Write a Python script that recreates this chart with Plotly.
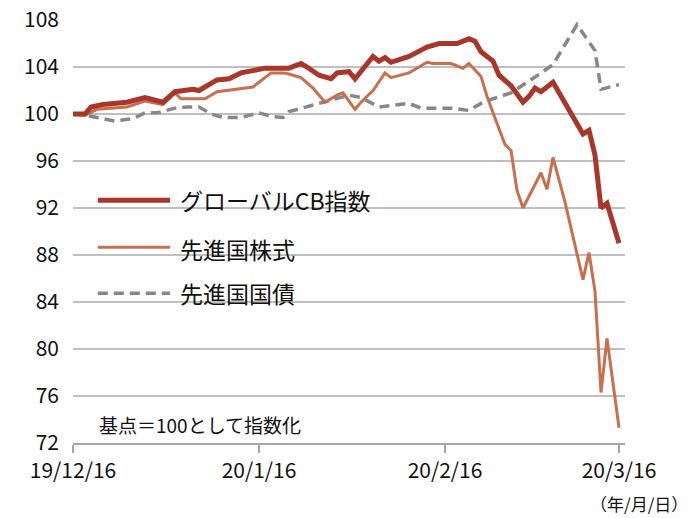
import plotly.graph_objects as go

# ---- data ----
cb_dates = ["2019-12-16","2019-12-18","2019-12-19","2019-12-21","2019-12-25","2019-12-28","2019-12-31",
            "2020-01-02","2020-01-05","2020-01-06","2020-01-09","2020-01-11","2020-01-13","2020-01-17",
            "2020-01-21","2020-01-23","2020-01-24","2020-01-26","2020-01-28","2020-01-29","2020-01-31",
            "2020-02-01","2020-02-04","2020-02-05","2020-02-06","2020-02-07","2020-02-10","2020-02-13",
            "2020-02-15","2020-02-18","2020-02-20","2020-02-21","2020-02-22","2020-02-24","2020-02-25",
            "2020-02-27","2020-02-29","2020-03-01","2020-03-02","2020-03-03","2020-03-05","2020-03-10",
            "2020-03-11","2020-03-12","2020-03-13","2020-03-14","2020-03-16"]
cb_values = [100.0,100.0,100.6,100.8,101.0,101.4,101.0,
             101.9,102.1,102.0,102.9,103.0,103.5,103.9,
             103.9,104.3,104.0,103.3,103.0,103.5,103.6,
             103.0,104.9,104.5,104.8,104.4,104.9,105.7,
             106.0,106.0,106.4,106.2,105.3,104.5,103.3,
             102.4,101.0,101.5,102.2,101.9,102.7,98.3,
             98.6,96.5,92.0,92.4,89.0]

eq_dates = ["2019-12-16","2019-12-18","2019-12-20","2019-12-25","2019-12-28","2019-12-31","2020-01-02",
            "2020-01-03","2020-01-05","2020-01-07","2020-01-09","2020-01-12","2020-01-15","2020-01-16",
            "2020-01-18","2020-01-20","2020-01-21","2020-01-23","2020-01-25","2020-01-27","2020-01-29",
            "2020-01-30","2020-02-01","2020-02-02","2020-02-04","2020-02-06","2020-02-07","2020-02-10",
            "2020-02-13","2020-02-14","2020-02-17","2020-02-19","2020-02-20","2020-02-22","2020-02-23",
            "2020-02-24","2020-02-26","2020-02-27","2020-02-28","2020-02-29","2020-03-03","2020-03-04",
            "2020-03-05","2020-03-07","2020-03-10","2020-03-11","2020-03-12","2020-03-13","2020-03-14",
            "2020-03-16"]
eq_values = [100.0,99.9,100.4,100.6,101.1,100.8,101.8,
             101.3,101.3,101.3,101.9,102.1,102.3,102.7,
             103.5,103.5,103.4,103.1,102.2,101.0,101.6,
             101.8,100.4,101.0,102.0,103.5,103.1,103.5,
             104.4,104.3,104.3,103.9,104.3,103.2,101.5,
             100.1,97.4,96.9,93.5,92.0,95.0,93.6,
             96.3,92.5,85.9,88.2,84.9,76.3,80.9,
             73.3]

bond_dates = ["2019-12-16","2019-12-18","2019-12-20","2019-12-23","2019-12-26","2019-12-28","2019-12-30",
              "2020-01-02","2020-01-04","2020-01-06","2020-01-08","2020-01-10","2020-01-13","2020-01-16",
              "2020-01-18","2020-01-20","2020-01-21","2020-01-23","2020-01-26","2020-01-31","2020-02-02",
              "2020-02-05","2020-02-08","2020-02-10","2020-02-12","2020-02-17","2020-02-20","2020-02-22",
              "2020-02-24","2020-02-27","2020-03-01","2020-03-03","2020-03-05","2020-03-09","2020-03-12",
              "2020-03-13","2020-03-16"]
bond_values = [100.0,99.9,99.7,99.4,99.6,100.1,100.1,
               100.5,100.6,100.6,100.0,99.7,99.7,100.1,
               99.8,99.7,100.2,100.5,100.9,101.6,101.4,
               100.6,100.8,100.9,100.5,100.5,100.3,100.9,
               101.3,101.8,102.8,103.5,104.2,107.6,105.4,
               102.1,102.5]

series_names = ["グローバルCB指数", "先進国株式", "先進国国債"]
x_tick_vals = ["2019-12-16", "2020-01-16", "2020-02-16", "2020-03-16"]
x_tick_text = ["19/12/16", "20/1/16", "20/2/16", "20/3/16"]
y_tick_vals = [72, 76, 80, 84, 88, 92, 96, 100, 104, 108]

# ---- styling ----
FONT = "Noto Sans CJK JP"
C_CB = "#A8372A"
C_EQ = "#C96F4E"
C_BD = "#878787"
GRID = "#BFBFBF"

fig = go.Figure()
fig.add_trace(go.Scatter(x=bond_dates, y=bond_values, mode="lines", name=series_names[2],
                         line=dict(color=C_BD, width=3.5, dash="10px,6px"), showlegend=False))
fig.add_trace(go.Scatter(x=eq_dates, y=eq_values, mode="lines", name=series_names[1],
                         line=dict(color=C_EQ, width=3), showlegend=False))
fig.add_trace(go.Scatter(x=cb_dates, y=cb_values, mode="lines", name=series_names[0],
                         line=dict(color=C_CB, width=5), showlegend=False))

# manual legend (long line samples as in the reference)
legend_rows = [
    (series_names[0], C_CB, 5, "solid", 0.574, 0.574),
    (series_names[1], C_EQ, 3, "solid", 0.463, 0.458),
    (series_names[2], C_BD, 3.5, "10px,6px", 0.354, 0.354),
]
for name, col, w, dash, yl, yt in legend_rows:
    fig.add_shape(type="line", xref="paper", yref="paper",
                  x0=0.045, x1=0.176, y0=yl, y1=yl,
                  line=dict(color=col, width=w, dash=dash))
    fig.add_annotation(xref="paper", yref="paper", x=0.190, y=yt, text=name,
                       showarrow=False, xanchor="left", yanchor="middle",
                       font=dict(family=FONT, size=23, color="#111111"))

fig.add_annotation(xref="paper", yref="paper", x=0.044, y=0.043, text="基点＝100として指数化",
                   showarrow=False, xanchor="left", yanchor="middle",
                   font=dict(family=FONT, size=19, color="#111111"))
fig.add_annotation(xref="paper", yref="paper", x=1.118, y=-0.142, text="（年/月/日）",
                   showarrow=False, xanchor="right", yanchor="middle",
                   font=dict(family=FONT, size=17, color="#111111"))

fig.update_layout(
    width=694, height=518,
    margin=dict(l=73, r=69, t=20, b=75),
    paper_bgcolor="white", plot_bgcolor="white",
    font=dict(family=FONT, size=21, color="#111111"),
    showlegend=False,
    hovermode=False,
    xaxis=dict(type="date", range=["2019-12-16", "2020-03-17"],
               tickmode="array", tickvals=x_tick_vals, ticktext=x_tick_text,
               showgrid=False, zeroline=False, automargin=False,
               ticklabeloverflow="allow",
               showline=True, linecolor="#A6A6A6", linewidth=2,
               ticks="outside", ticklen=8, tickwidth=2, tickcolor="#A6A6A6",
               ticklabelstandoff=0,
               tickfont=dict(family=FONT, size=21, color="#111111")),
    yaxis=dict(range=[72, 108], tickmode="array", tickvals=y_tick_vals,
               showgrid=True, gridcolor=GRID, gridwidth=2, automargin=False,
               ticklabeloverflow="allow",
               zeroline=False, showline=False, ticks="",
               ticklabelstandoff=13,
               tickfont=dict(family=FONT, size=21, color="#111111")),
)

# remove the default 8px page margin so the 694x518 figure fills the window exactly
fig.write_html("out.html",
               config={"displayModeBar": False, "staticPlot": True},
               post_script="document.body.style.margin='0';document.body.style.overflow='hidden';")
